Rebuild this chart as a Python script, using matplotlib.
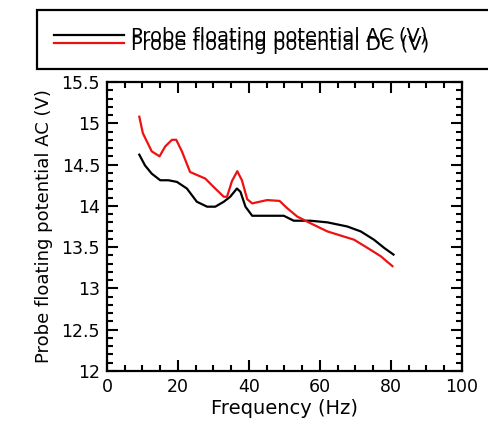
import matplotlib
matplotlib.use("Agg")
import matplotlib.pyplot as plt
from matplotlib.lines import Line2D
from matplotlib.ticker import MultipleLocator

# Data
freq_ac = [9.1, 10.7, 12.6, 15.0, 17.3, 19.7, 22.5, 25.3, 28.2, 30.5, 32.9, 34.7,
           36.6, 37.6, 39.0, 40.9, 49.8, 52.6, 57.3, 62.1, 67.7, 71.5, 75.2, 78.1, 80.7]
pot_ac = [14.62, 14.49, 14.39, 14.31, 14.31, 14.29, 14.21, 14.05, 13.99, 13.99, 14.05, 14.11,
          14.21, 14.17, 13.99, 13.88, 13.88, 13.82, 13.82, 13.80, 13.75, 13.69, 13.59, 13.49, 13.41]

freq_dc = [9.1, 10.1, 12.6, 14.8, 16.4, 18.3, 19.5, 21.1, 23.4, 27.7, 30.0, 32.9, 33.8,
           35.2, 36.7, 38.0, 39.5, 40.9, 45.1, 48.6, 50.8, 53.6, 57.3, 62.1, 69.6, 73.4, 77.1, 80.4]
pot_dc = [15.08, 14.88, 14.66, 14.60, 14.72, 14.80, 14.80, 14.66, 14.41, 14.33, 14.23, 14.11, 14.11,
          14.30, 14.42, 14.31, 14.08, 14.03, 14.07, 14.06, 13.97, 13.87, 13.79, 13.69, 13.59, 13.49, 13.39, 13.27]

labels = ["Probe floating potential AC (V)", "Probe floating potential DC (V)"]
xlabel = "Frequency (Hz)"
ylabel = "Probe floating potential AC (V)"

plt.rcParams['font.family'] = ['DejaVu Sans']

W, H = 489, 424
fig = plt.figure(figsize=(W / 100, H / 100), dpi=100)
ax = fig.add_axes([107 / W, 1 - 371 / H, (462 - 107) / W, (371 - 82) / H])

l1, = ax.plot(freq_ac, pot_ac, color="black", lw=1.6)
l2, = ax.plot(freq_dc, pot_dc, color="#ee1111", lw=1.6)

ax.set_xlim(0, 100)
ax.set_ylim(12, 15.5)
ax.xaxis.set_major_locator(MultipleLocator(20))
ax.xaxis.set_minor_locator(MultipleLocator(5))
ax.yaxis.set_minor_locator(MultipleLocator(0.1))
ax.set_yticks([12, 12.5, 13, 13.5, 14, 14.5, 15, 15.5])
ax.set_yticklabels(["12", "12.5", "13", "13.5", "14", "14.5", "15", "15.5"])

ax.tick_params(which="both", direction="in", top=True, right=True, width=1.5,
               labelsize=12.5)
ax.tick_params(which="major", length=8, pad=5)
ax.tick_params(which="minor", length=4.5)
for s in ax.spines.values():
    s.set_linewidth(1.6)

ax.set_xlabel(xlabel, fontsize=14, labelpad=2)
ax.set_ylabel(ylabel, fontsize=13, labelpad=6)

# Legend frame: open on the right, reaching the figure edge as in the reference
fx0, fx1 = 37 / W, 1.0
fy0, fy1 = 1 - 69 / H, 1 - 10 / H
frame = Line2D([fx1, fx0, fx0, fx1], [fy1, fy1, fy0, fy0], transform=fig.transFigure,
               color="black", lw=1.6, solid_joinstyle="miter", solid_capstyle="butt")
fig.add_artist(frame)

leg = fig.legend([l1, l2], labels, loc="upper left",
                 bbox_to_anchor=(37 / W, 1 - 10 / H),
                 fontsize=14, labelspacing=-0.55, handlelength=3.6, handletextpad=0.36,
                 borderpad=0.85, frameon=False, borderaxespad=0)

fig.savefig("out.png", dpi=100)
